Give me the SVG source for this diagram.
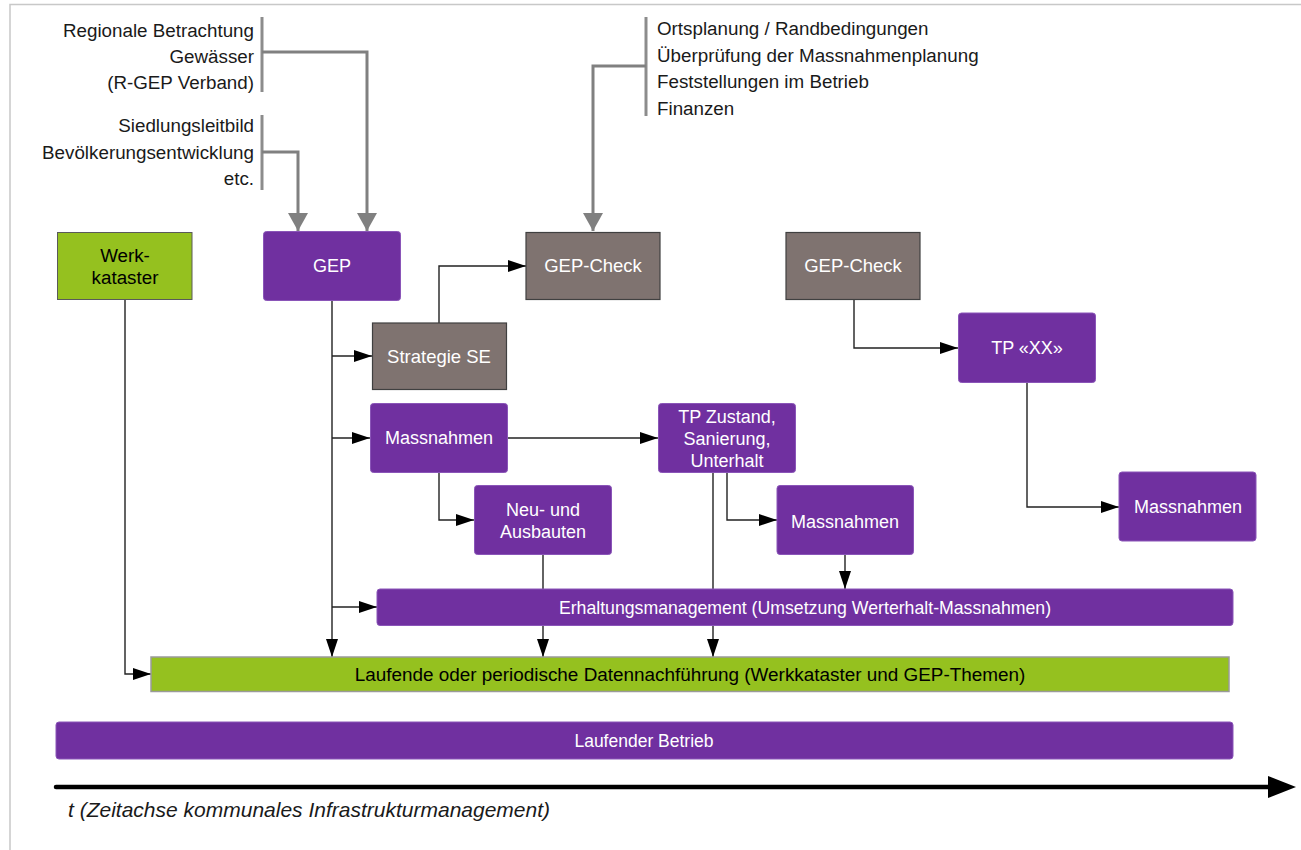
<svg xmlns="http://www.w3.org/2000/svg" width="1301" height="850" viewBox="0 0 1301 850">
<style>
  text { font-family: "Liberation Sans", Arial, sans-serif; font-size: 18px; }
  .w { fill: #ffffff; text-anchor: middle; }
  .b { fill: #000000; text-anchor: middle; }
  .lbl { fill: #1a1a1a; font-size: 18.8px; }
  .purple { fill: #7030a0; stroke: #8a55b8; stroke-width: 1; }
  .green { fill: #95c11f; stroke: #5a5a5a; stroke-width: 1; }
  .greenbar { fill: #95c11f; stroke: #9a9a9a; stroke-width: 1.5; }
  .grey { fill: #7f7370; stroke: #404040; stroke-width: 1.2; }
  .con { fill: none; stroke: #222222; stroke-width: 1.4; }
  .gcon { fill: none; stroke: #808080; stroke-width: 3; }
  .gbar { fill: none; stroke: #8c8c8c; stroke-width: 3; }
</style>
<defs>
  <marker id="ab" markerUnits="userSpaceOnUse" markerWidth="18" markerHeight="12" refX="18" refY="6" orient="auto">
    <path d="M0,0 L18,6 L0,12 z" fill="#000000"/>
  </marker>
  <marker id="ag" markerUnits="userSpaceOnUse" markerWidth="18" markerHeight="20" refX="18" refY="10" orient="auto">
    <path d="M0,0 L18,10 L0,20 z" fill="#808080"/>
  </marker>
</defs>

<!-- frame -->
<g id="frame">
  <path d="M10,850 L10,4.5 L1301,4.5" fill="none" stroke="#c8c8c8" stroke-width="1.5"/>
</g>

<!-- input labels -->
<g id="inputs-regional">
  <path class="gbar" d="M262,17 L262,92"/>
  <text class="lbl" x="254" y="36.5" text-anchor="end">Regionale Betrachtung</text>
  <text class="lbl" x="254" y="63" text-anchor="end">Gewässer</text>
  <text class="lbl" x="254" y="89" text-anchor="end">(R-GEP Verband)</text>
</g>
<g id="inputs-siedlung">
  <path class="gbar" d="M262,115 L262,190"/>
  <text class="lbl" x="254" y="132" text-anchor="end">Siedlungsleitbild</text>
  <text class="lbl" x="254" y="158.5" text-anchor="end">Bevölkerungsentwicklung</text>
  <text class="lbl" x="254" y="185" text-anchor="end">etc.</text>
</g>
<g id="inputs-check">
  <path class="gbar" d="M646,17 L646,116"/>
  <text class="lbl" x="657" y="35">Ortsplanung / Randbedingungen</text>
  <text class="lbl" x="657" y="61.5">Überprüfung der Massnahmenplanung</text>
  <text class="lbl" x="657" y="88">Feststellungen im Betrieb</text>
  <text class="lbl" x="657" y="114.5">Finanzen</text>
</g>

<!-- connectors -->
<g id="connectors">
  <path class="gcon" d="M262,52 L367,52 L367,231" marker-end="url(#ag)"/>
  <path class="gcon" d="M262,152 L298,152 L298,231" marker-end="url(#ag)"/>
  <path class="gcon" d="M646,66 L593,66 L593,231" marker-end="url(#ag)"/>

  <path class="con" d="M332,300 L332,657" marker-end="url(#ab)"/>
  <path class="con" d="M332,356 L372,356" marker-end="url(#ab)"/>
  <path class="con" d="M332,438 L370,438" marker-end="url(#ab)"/>
  <path class="con" d="M332,607 L377,607" marker-end="url(#ab)"/>
  <path class="con" d="M439,323 L439,266 L526,266" marker-end="url(#ab)"/>
  <path class="con" d="M507,438 L658,438" marker-end="url(#ab)"/>
  <path class="con" d="M439,472 L439,520 L474,520" marker-end="url(#ab)"/>
  <path class="con" d="M543,555 L543,589"/>
  <path class="con" d="M543,625 L543,657" marker-end="url(#ab)"/>
  <path class="con" d="M713,472 L713,589"/>
  <path class="con" d="M713,625 L713,657" marker-end="url(#ab)"/>
  <path class="con" d="M727,472 L727,520 L777,520" marker-end="url(#ab)"/>
  <path class="con" d="M845,555 L845,589" marker-end="url(#ab)"/>
  <path class="con" d="M125,299 L125,674 L151,674" marker-end="url(#ab)"/>
  <path class="con" d="M854,299 L854,348 L958,348" marker-end="url(#ab)"/>
  <path class="con" d="M1027,382 L1027,507 L1119,507" marker-end="url(#ab)"/>
</g>

<!-- nodes -->
<g id="werkkataster">
  <rect class="green" x="57.5" y="232.5" width="134.5" height="67"/>
  <text class="b" x="125" y="262" style="font-size:18.8px">Werk-</text>
  <text class="b" x="125" y="284" style="font-size:18.8px">kataster</text>
</g>
<g id="gep">
  <rect class="purple" x="263.5" y="231.5" width="137" height="69" rx="3"/>
  <text class="w" x="332" y="272">GEP</text>
</g>
<g id="gep-check-1">
  <rect class="grey" x="526" y="232.5" width="134" height="67"/>
  <text class="w" x="593" y="272" style="font-size:18.5px">GEP-Check</text>
</g>
<g id="strategie-se">
  <rect class="grey" x="372.5" y="323" width="134" height="66.5"/>
  <text class="w" x="439" y="363" style="font-size:18.5px">Strategie SE</text>
</g>
<g id="massnahmen-1">
  <rect class="purple" x="370.5" y="403.5" width="137" height="69" rx="3"/>
  <text class="w" x="439" y="444">Massnahmen</text>
</g>
<g id="tp-zustand">
  <rect class="purple" x="658.5" y="403.5" width="137" height="69" rx="3"/>
  <text class="w" x="727" y="423">TP Zustand,</text>
  <text class="w" x="727" y="445">Sanierung,</text>
  <text class="w" x="727" y="467">Unterhalt</text>
</g>
<g id="neu-ausbauten">
  <rect class="purple" x="474.5" y="485.5" width="137" height="69" rx="3"/>
  <text class="w" x="543" y="516">Neu- und</text>
  <text class="w" x="543" y="538">Ausbauten</text>
</g>
<g id="massnahmen-2">
  <rect class="purple" x="777" y="485.5" width="136.5" height="69" rx="3"/>
  <text class="w" x="845" y="528">Massnahmen</text>
</g>
<g id="gep-check-2">
  <rect class="grey" x="786" y="232.5" width="134" height="67"/>
  <text class="w" x="853" y="272" style="font-size:18.5px">GEP-Check</text>
</g>
<g id="tp-xx">
  <rect class="purple" x="958.5" y="313" width="137" height="69.5" rx="3"/>
  <text class="w" x="1027" y="354">TP  «XX»</text>
</g>
<g id="massnahmen-3">
  <rect class="purple" x="1119" y="472" width="137" height="69" rx="3"/>
  <text class="w" x="1188" y="513">Massnahmen</text>
</g>
<g id="erhaltungsmanagement">
  <rect class="purple" x="377" y="589" width="856" height="36.5" rx="3"/>
  <text class="w" x="805" y="613.5" style="font-size:17.7px">Erhaltungsmanagement (Umsetzung Werterhalt-Massnahmen)</text>
</g>
<g id="datennachfuehrung">
  <rect class="greenbar" x="151" y="657" width="1078" height="34.5"/>
  <text class="b" x="690" y="681" style="font-size:18.9px">Laufende oder periodische Datennachführung (Werkkataster und GEP-Themen)</text>
</g>
<g id="laufender-betrieb">
  <rect class="purple" x="56" y="722" width="1177" height="37" rx="3"/>
  <text class="w" x="644" y="747" style="font-size:17.5px">Laufender Betrieb</text>
</g>

<!-- time axis -->
<g id="zeitachse">
  <path d="M56,787 L1270,787" stroke="#000000" stroke-width="4.5" fill="none" stroke-linecap="round"/>
  <path d="M1268,776 L1296,787 L1268,798 z" fill="#000000"/>
  <text x="68" y="817" font-style="italic" fill="#1a1a1a" style="font-size:21px">t (Zeitachse kommunales Infrastrukturmanagement)</text>
</g>
</svg>
